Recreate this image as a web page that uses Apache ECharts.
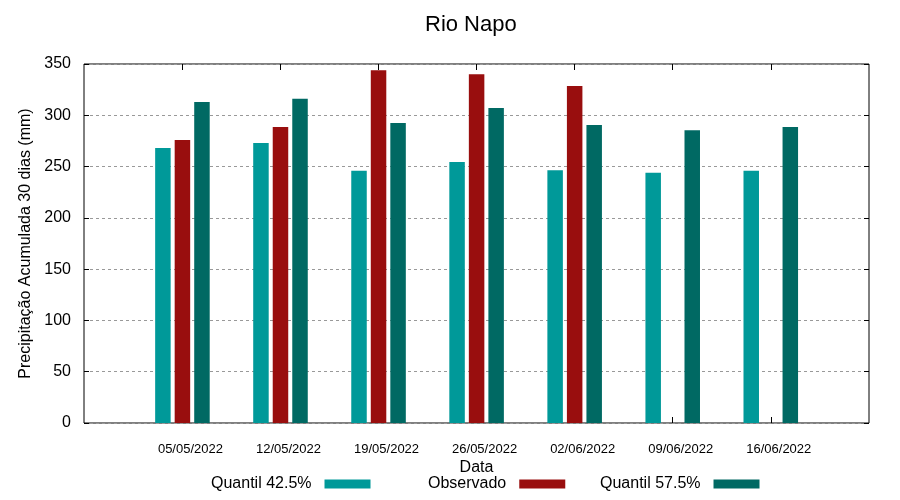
<!DOCTYPE html>
<html>
<head>
<meta charset="utf-8">
<script src="https://cdn.jsdelivr.net/npm/echarts@6/dist/echarts.min.js"></script>
<style>html,body{margin:0;padding:0;background:#fff}#c{width:900px;height:500px}</style>
</head>
<body>
<div id="c"></div>
<script>
const categories = ['05/05/2022','12/05/2022','19/05/2022','26/05/2022','02/06/2022','09/06/2022','16/06/2022'];
const q425 = [268, 273, 246, 254.5, 246.5, 244, 246];
const observado = [276, 288.5, 344, 340, 328.5, null, null];
const q575 = [313, 316, 292.5, 307, 290.5, 285.5, 288.5];
const yTicks = [0, 50, 100, 150, 200, 250, 300, 350];
const seriesNames = ['Quantil 42.5%', 'Observado', 'Quantil 57.5%'];
const colors = ['#009999', '#990e0e', '#006963'];

const FONT = 'Liberation Sans, Arial, sans-serif';
const chart = echarts.init(document.getElementById('c'), null, {renderer: 'canvas'});

function legendAt(idx, left) {
  return {
    data: [seriesNames[idx]],
    left: left, top: 476, padding: 0,
    orient: 'horizontal', align: 'right',
    itemWidth: 46, itemHeight: 9,
    icon: 'rect',
    selectedMode: false,
    textStyle: {fontFamily: FONT, fontSize: 16, color: '#000', padding: [0, 8, 0, 0]}
  };
}

const option = {
  animation: false,
  backgroundColor: '#fff',
  title: {
    text: 'Rio Napo', left: 425, top: 14, padding: 0,
    textStyle: {fontFamily: FONT, fontSize: 22, fontWeight: 'normal', color: '#000'}
  },
  legend: [legendAt(0, 211), legendAt(1, 428), legendAt(2, 600)],
  grid: [
    {left: 84, right: 31, top: 64, bottom: 77, show: true, borderColor: '#000', borderWidth: 1, backgroundColor: 'transparent', containLabel: false},
    {left: 133.4, right: 80.2, top: 64, bottom: 77, containLabel: false}
  ],
  xAxis: [
    {gridIndex: 0, type: 'value', min: 0, max: 1, name: 'Data', nameLocation: 'middle', nameGap: 37,
     nameTextStyle: {fontFamily: FONT, fontSize: 16, color: '#000'},
     axisLine: {show: false}, axisTick: {show: false}, axisLabel: {show: false}, splitLine: {show: false}},
    {gridIndex: 1, type: 'category', data: categories, position: 'bottom',
     axisLine: {show: false},
     axisTick: {show: true, inside: true, length: 6, alignWithLabel: true, lineStyle: {color: '#000'}},
     axisLabel: {fontFamily: FONT, fontSize: 13, color: '#000', margin: 20, padding: [0, 0, 0, 16]},
     splitLine: {show: false}},
    {gridIndex: 1, type: 'category', data: categories, position: 'top',
     axisLine: {show: false},
     axisTick: {show: true, inside: true, length: 6, alignWithLabel: true, lineStyle: {color: '#000'}},
     axisLabel: {show: false}, splitLine: {show: false}}
  ],
  yAxis: [
    {gridIndex: 0, type: 'value', min: yTicks[0], max: yTicks[yTicks.length - 1], interval: 50, position: 'left',
     name: 'Precipitação Acumulada 30 dias (mm)', nameLocation: 'middle', nameGap: 49,
     nameTextStyle: {fontFamily: FONT, fontSize: 16, color: '#000'},
     axisLine: {show: false},
     axisTick: {show: true, inside: true, length: 5, lineStyle: {color: '#000'}},
     axisLabel: {fontFamily: FONT, fontSize: 16, color: '#000', margin: 13},
     splitLine: {show: true, lineStyle: {color: '#999', width: 1, type: [3, 3]}}},
    {gridIndex: 0, type: 'value', min: yTicks[0], max: yTicks[yTicks.length - 1], interval: 50, position: 'right',
     axisLine: {show: false},
     axisTick: {show: true, inside: true, length: 5, lineStyle: {color: '#000'}},
     axisLabel: {show: false}, splitLine: {show: false}},
    {gridIndex: 1, type: 'value', min: yTicks[0], max: yTicks[yTicks.length - 1], show: false}
  ],
  series: [q425, observado, q575].map((d, i) => ({
    name: seriesNames[i], type: 'bar', xAxisIndex: 1, yAxisIndex: 2,
    data: d, barWidth: 15.5, barGap: '26%',
    itemStyle: {color: colors[i]}
  }))
};
chart.setOption(option);
</script>
</body>
</html>
